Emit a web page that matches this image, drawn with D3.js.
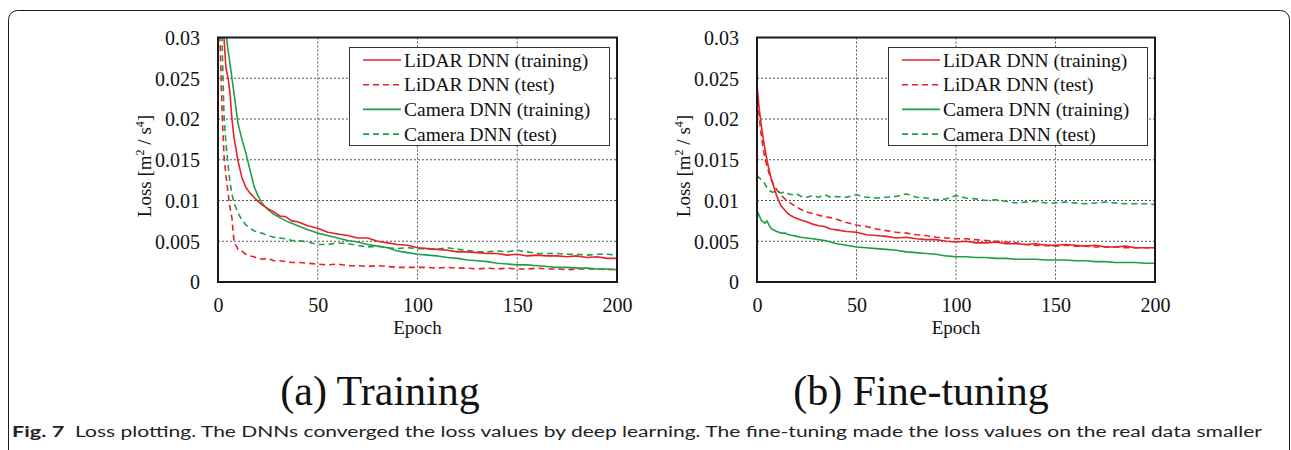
<!DOCTYPE html>
<html>
<head>
<meta charset="utf-8">
<script src="https://cdn.jsdelivr.net/npm/d3@7"></script>
<style>
html,body{margin:0;padding:0;background:#fff;}
svg{display:block;}
</style>
</head>
<body>
<svg id="chart" width="1291" height="450"></svg>
<script>
// ---------- DATA ----------
const epochs = [0,1,2,3,4,5,6,7,8,10,12,14,16,18,20,22,25,28,31,34,37,40,45,50,55,60,65,70,75,80,85,90,95,100,105,110,115,120,125,130,135,140,145,150,155,160,165,170,175,180,185,190,195,200];

// (a) Training
const trainLidarTraining = [0.060,0.045,0.036,0.0300,0.0262,0.0251,0.0232,0.0200,0.0178,0.0149,0.0128,0.0116,0.0109,0.0104,0.0099,0.0095,0.0090,0.0086,0.0081,0.0080,0.0075,0.0074,0.0069,0.0066,0.0061,0.0059,0.0057,0.0054,0.0054,0.0050,0.0048,0.0046,0.0045,0.0042,0.0041,0.0040,0.0039,0.0037,0.0037,0.0036,0.0035,0.0035,0.0033,0.0034,0.0032,0.0033,0.0032,0.0032,0.0031,0.0032,0.0030,0.0031,0.0029,0.0029];
const trainLidarTest = [0.045,0.030,0.021,0.0155,0.0130,0.0110,0.0092,0.0078,0.0050,0.0040,0.0038,0.0034,0.0032,0.0031,0.0029,0.0028,0.0029,0.0026,0.0026,0.0025,0.0024,0.0024,0.0023,0.0022,0.0021,0.0022,0.0020,0.0020,0.0019,0.0020,0.0019,0.0018,0.0018,0.0018,0.0018,0.0017,0.0018,0.0017,0.0017,0.0016,0.0017,0.0016,0.0017,0.0016,0.0016,0.0017,0.0016,0.0016,0.0015,0.0016,0.0016,0.0016,0.0015,0.0016];
const trainCameraTraining = [0.045,0.040,0.036,0.033,0.0305,0.0285,0.0268,0.0250,0.0232,0.0195,0.0175,0.0158,0.0138,0.0118,0.0106,0.0097,0.0089,0.0083,0.0079,0.0075,0.0072,0.0069,0.0064,0.0060,0.0057,0.0054,0.0051,0.0049,0.0046,0.0044,0.0042,0.0038,0.0036,0.0034,0.0033,0.0032,0.0030,0.0029,0.0027,0.0026,0.0025,0.0023,0.0022,0.0021,0.0021,0.0020,0.0019,0.0018,0.0018,0.0017,0.0017,0.0016,0.0016,0.0015];
const trainCameraTest = [0.045,0.036,0.0300,0.0205,0.0170,0.0145,0.0122,0.0108,0.0097,0.0085,0.0076,0.0070,0.0066,0.0063,0.0061,0.0060,0.0057,0.0055,0.0054,0.0053,0.0051,0.0051,0.0049,0.0046,0.0046,0.0048,0.0047,0.0045,0.0043,0.0044,0.0042,0.0041,0.0042,0.0041,0.0041,0.0040,0.0042,0.0040,0.0039,0.0037,0.0037,0.0038,0.0037,0.0039,0.0037,0.0035,0.0035,0.0035,0.0034,0.0034,0.0033,0.0034,0.0034,0.0033];

// (b) Fine-tuning
const fineLidarTraining = [0.0242,0.0215,0.0195,0.0178,0.0163,0.0150,0.0138,0.0128,0.0120,0.0105,0.0094,0.0088,0.0083,0.0080,0.0078,0.0076,0.0074,0.0071,0.0069,0.0068,0.0065,0.0064,0.0062,0.0061,0.0058,0.0057,0.0056,0.0054,0.0055,0.0053,0.0052,0.0052,0.0050,0.0049,0.0050,0.0048,0.0048,0.0049,0.0047,0.0047,0.0046,0.0047,0.0045,0.0045,0.0046,0.0045,0.0044,0.0045,0.0043,0.0043,0.0044,0.0042,0.0042,0.0042];
const fineLidarTest = [0.0235,0.0205,0.0183,0.0165,0.0152,0.0142,0.0134,0.0127,0.0121,0.0113,0.0107,0.0102,0.0098,0.0095,0.0092,0.0089,0.0086,0.0084,0.0082,0.0080,0.0079,0.0077,0.0073,0.0070,0.0068,0.0065,0.0063,0.0061,0.0060,0.0058,0.0057,0.0055,0.0054,0.0053,0.0053,0.0052,0.0051,0.0050,0.0049,0.0048,0.0046,0.0045,0.0045,0.0044,0.0045,0.0044,0.0044,0.0043,0.0043,0.0043,0.0042,0.0042,0.0042,0.0042];
const fineCameraTraining = [0.0088,0.0082,0.0076,0.0074,0.0072,0.0075,0.0070,0.0066,0.0064,0.0062,0.0060,0.0060,0.0058,0.0057,0.0056,0.0055,0.0054,0.0053,0.0052,0.0051,0.0049,0.0047,0.0045,0.0043,0.0042,0.0041,0.0040,0.0039,0.0037,0.0036,0.0035,0.0034,0.0032,0.0031,0.0031,0.0030,0.0030,0.0029,0.0029,0.0028,0.0028,0.0028,0.0027,0.0027,0.0027,0.0026,0.0026,0.0025,0.0025,0.0024,0.0024,0.0024,0.0023,0.0023];
const fineCameraTest = [0.0131,0.0128,0.0126,0.0124,0.0120,0.0116,0.0113,0.0111,0.0110,0.0112,0.0109,0.0111,0.0108,0.0107,0.0108,0.0105,0.0104,0.0106,0.0104,0.0107,0.0104,0.0105,0.0104,0.0107,0.0104,0.0103,0.0104,0.0105,0.0108,0.0104,0.0103,0.0101,0.0102,0.0106,0.0103,0.0102,0.0100,0.0101,0.0099,0.0097,0.0098,0.0099,0.0097,0.0097,0.0098,0.0097,0.0096,0.0097,0.0098,0.0097,0.0096,0.0096,0.0096,0.0095];

const legendLabels = ["LiDAR DNN (training)","LiDAR DNN (test)","Camera DNN (training)","Camera DNN (test)"];
const xTicks = [0,50,100,150,200];
const yTicks = [0,0.005,0.01,0.015,0.02,0.025,0.03];
const yTickLabels = ["0","0.005","0.01","0.015","0.02","0.025","0.03"];
const panelTitles = ["(a) Training","(b) Fine-tuning"];
const captionBold = "Fig. 7";
const captionText = "Loss plotting. The DNNs converged the loss values by deep learning. The fine-tuning made the loss values on the real data smaller";

// ---------- DRAW ----------
(function(){
const svg = d3.select("#chart");
const RED = "#ea1f27", GREEN = "#1f9e48";
const serif = "'Liberation Serif','Times New Roman',serif";

// outer rounded frame
svg.append("rect").attr("x",8.5).attr("y",10.5).attr("width",1281).attr("height",520)
  .attr("rx",9).attr("fill","none").attr("stroke","#1a1a1a").attr("stroke-width",1);

const panels = [
  {left:218, right:617, title:panelTitles[0], titleX:380,
   series:[trainLidarTraining,trainLidarTest,trainCameraTraining,trainCameraTest]},
  {left:757, right:1155, title:panelTitles[1], titleX:921,
   series:[fineLidarTraining,fineLidarTest,fineCameraTraining,fineCameraTest]}
];
const styles = [
  {color:RED, dash:null},
  {color:RED, dash:"6,4"},
  {color:GREEN, dash:null},
  {color:GREEN, dash:"6,4"}
];
const plotTop = 37.5, plotBottom = 282;

panels.forEach((p,pi)=>{
  const x = d3.scaleLinear().domain([0,200]).range([p.left,p.right]);
  const y = d3.scaleLinear().domain([0,0.03]).range([plotBottom,plotTop]);
  const g = svg.append("g");

  // grid
  g.append("g").selectAll("line").data(yTicks.slice(1,-1)).join("line")
    .attr("x1",p.left).attr("x2",p.right).attr("y1",d=>y(d)).attr("y2",d=>y(d))
    .attr("stroke","#555").attr("stroke-width",1).attr("stroke-dasharray","2,2");
  g.append("g").selectAll("line").data(xTicks.slice(1,-1)).join("line")
    .attr("y1",plotTop).attr("y2",plotBottom).attr("x1",d=>x(d)).attr("x2",d=>x(d))
    .attr("stroke","#555").attr("stroke-width",1).attr("stroke-dasharray","2,2");

  // clip
  const cid = "clip"+pi;
  svg.append("clipPath").attr("id",cid).append("rect")
    .attr("x",p.left).attr("y",plotTop).attr("width",p.right-p.left).attr("height",plotBottom-plotTop);

  const line = d3.line().x((d,i)=>x(epochs[i])).y(d=>y(d));
  const lg = g.append("g").attr("clip-path",`url(#${cid})`);
  [3,1,2,0].forEach(si=>{
    lg.append("path").datum(p.series[si]).attr("d",line)
      .attr("fill","none").attr("stroke",styles[si].color).attr("stroke-width",1.6)
      .attr("stroke-dasharray",styles[si].dash).attr("stroke-linejoin","round");
  });

  // frame
  g.append("rect").attr("x",p.left).attr("y",plotTop).attr("width",p.right-p.left).attr("height",plotBottom-plotTop)
    .attr("fill","none").attr("stroke","#1a1a1a").attr("stroke-width",2);

  // axes (labels only)
  const xAxis = d3.axisBottom(x).tickValues(xTicks).tickSize(0).tickPadding(0);
  const xa = g.append("g").attr("transform",`translate(0,${plotBottom})`).call(xAxis);
  xa.select(".domain").remove();
  xa.selectAll("text").attr("y",30).attr("dy",0).attr("font-family",serif).attr("font-size",20).attr("fill","#111");

  const yAxis = d3.axisLeft(y).tickValues(yTicks).tickFormat((d,i)=>yTickLabels[i]).tickSize(0).tickPadding(0);
  const ya = g.append("g").attr("transform",`translate(${p.left-18},0)`).call(yAxis);
  ya.select(".domain").remove();
  ya.selectAll("text").attr("x",0).attr("dy","0.34em").attr("font-family",serif).attr("font-size",20).attr("fill","#111");

  // axis titles
  g.append("text").attr("x",(p.left+p.right)/2).attr("y",334).attr("text-anchor","middle")
    .attr("font-family",serif).attr("font-size",19).attr("fill","#111").text("Epoch");
  const yl = g.append("text").attr("transform",`translate(${p.left-67},166) rotate(-90)`)
    .attr("text-anchor","middle").attr("font-family",serif).attr("font-size",19).attr("fill","#111");
  yl.append("tspan").text("Loss [m");
  yl.append("tspan").attr("font-size",12).attr("dy",-7).text("2");
  yl.append("tspan").attr("dy",7).text(" / s");
  yl.append("tspan").attr("font-size",12).attr("dy",-7).text("4");
  yl.append("tspan").attr("dy",7).text("]");

  // legend
  const lx = p.left+131, lw = (p.right-8)-lx;
  const leg = g.append("g");
  leg.append("rect").attr("x",lx+0.5).attr("y",47.5).attr("width",lw).attr("height",98)
    .attr("fill","#fff").attr("stroke","#333").attr("stroke-width",1);
  legendLabels.forEach((lab,i)=>{
    const yy = 60 + i*24.7;
    leg.append("line").attr("x1",lx+14).attr("x2",lx+52).attr("y1",yy).attr("y2",yy)
      .attr("stroke",styles[i].color).attr("stroke-width",1.6).attr("stroke-dasharray",styles[i].dash);
    leg.append("text").attr("x",lx+55).attr("y",yy+6.5).attr("font-family",serif).attr("font-size",19.5)
      .attr("fill","#111").text(lab);
  });

  // panel title
  svg.append("text").attr("x",p.titleX).attr("y",405).attr("text-anchor","middle")
    .attr("font-family",serif).attr("font-size",42).attr("fill","#111").text(p.title);
});

// caption
const cap = svg.append("text").attr("x",12).attr("y",437)
  .attr("font-family","Lato,'Open Sans',sans-serif").attr("font-size",15.5).attr("fill","#222");
cap.append("tspan").attr("font-weight","bold").attr("font-size",16).text(captionBold);
cap.append("tspan").attr("dx",8).text(captionText);
const w = cap.node().getComputedTextLength();
const target = 1250;
if (Math.abs(w-target) > 4) cap.attr("textLength",target).attr("lengthAdjust","spacingAndGlyphs");
})();
</script>
</body>
</html>
